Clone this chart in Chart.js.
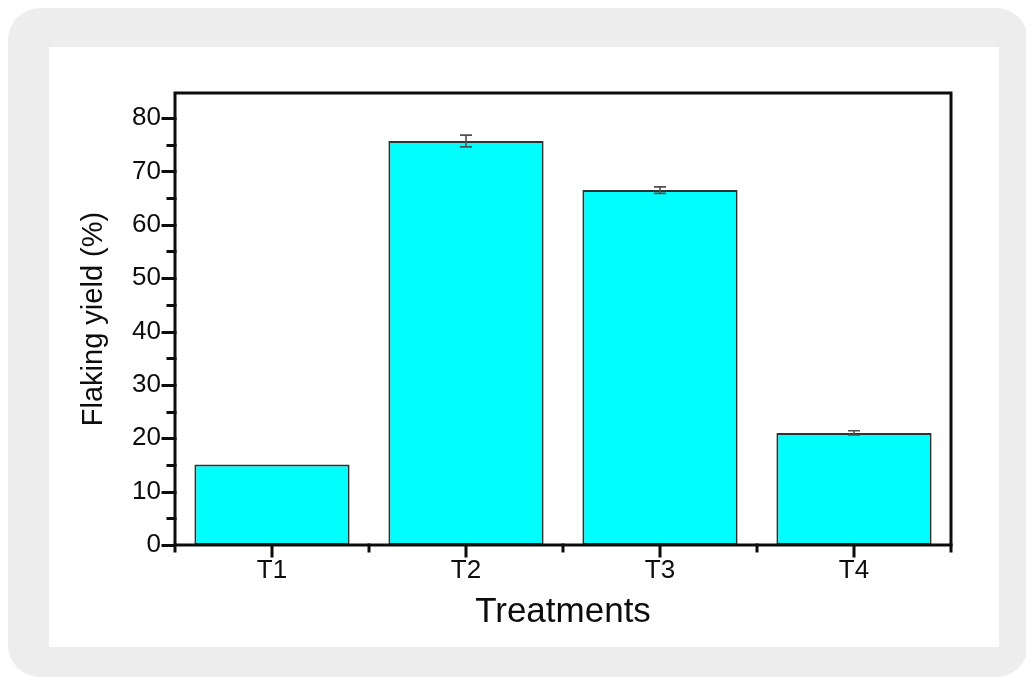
<!DOCTYPE html>
<html>
<head>
<meta charset="utf-8">
<script src="https://cdn.jsdelivr.net/npm/chart.js@4/dist/chart.umd.min.js"></script>
<style>
  html, body { margin: 0; padding: 0; width: 1026px; height: 677px; overflow: hidden; background: #ffffff; }
  #panel { position: absolute; left: 8px; top: 8px; width: 1020px; height: 669px; background: #ededed; border-radius: 32px; }
  #sheet { position: absolute; left: 49px; top: 47px; width: 950px; height: 600px; background: #ffffff; }
  #wrap { position: absolute; left: 0; top: 0; width: 1026px; height: 677px; }
</style>
</head>
<body>
<div id="panel"></div>
<div id="sheet"></div>
<div id="wrap"><canvas id="c" width="1026" height="677"></canvas></div>
<script>
// Flaking yield per treatment (mean and error)
const categories = ['T1', 'T2', 'T3', 'T4'];
const yieldMeans = [15.1, 75.7, 66.5, 21.0];
const yieldErrors = [0, 1.1, 0.6, 0.4];
const yMin = 0;
const yMax = 84.7;
const yStep = 10;
const yMinorStep = 5;

const FONT = "'Liberation Sans', Arial, Helvetica, sans-serif";
const INK = '#0d0d0d';

// Error bars, axis frame and tick marks
const decor = {
  id: 'decor',
  afterDatasetsDraw(chart) {
    const { ctx, scales: { y } } = chart;
    const meta = chart.getDatasetMeta(0);
    ctx.save();
    ctx.strokeStyle = '#505050';
    ctx.lineWidth = 1.6;
    yieldMeans.forEach((v, i) => {
      const e = yieldErrors[i];
      if (!e) return;
      const cx = meta.data[i].x;
      const yt = y.getPixelForValue(v + e);
      const yb = y.getPixelForValue(v - e);
      ctx.beginPath();
      ctx.moveTo(cx, yt); ctx.lineTo(cx, yb);
      ctx.moveTo(cx - 6, yt); ctx.lineTo(cx + 6, yt);
      ctx.moveTo(cx - 6, yb); ctx.lineTo(cx + 6, yb);
      ctx.stroke();
    });
    ctx.restore();
  },
  afterDraw(chart) {
    const { ctx, chartArea: a, scales: { x, y } } = chart;
    ctx.save();
    ctx.strokeStyle = INK;
    ctx.lineWidth = 3;
    ctx.lineCap = 'square';
    ctx.beginPath();
    // left y ticks (outward)
    for (let v = yMin; v <= 80 + 1e-9; v += yMinorStep) {
      const py = Math.round(y.getPixelForValue(v)) + 0.5;
      const len = (v % yStep === 0) ? 12 : 7;
      ctx.moveTo(a.left - len, py);
      ctx.lineTo(a.left, py);
    }
    // bottom x ticks: major at categories, minor between
    const n = categories.length;
    for (let i = 0; i < n; i++) {
      const px = x.getPixelForValue(i);
      ctx.moveTo(px, a.bottom);
      ctx.lineTo(px, a.bottom + 11);
    }
    const step = (a.right - a.left) / n;
    for (let k = 0; k <= n; k++) {
      const px = a.left + k * step;
      ctx.moveTo(px, a.bottom);
      ctx.lineTo(px, a.bottom + 6);
    }
    ctx.stroke();
    // frame
    ctx.lineCap = 'butt';
    ctx.strokeRect(a.left, a.top, a.right - a.left, a.bottom - a.top);
    ctx.restore();
  }
};

new Chart(document.getElementById('c'), {
  type: 'bar',
  data: {
    labels: categories,
    datasets: [{
      data: yieldMeans,
      backgroundColor: '#00ffff',
      borderColor: '#2b3333',
      borderWidth: 2,
      borderSkipped: false,
      categoryPercentage: 1.0,
      barPercentage: 0.8
    }]
  },
  options: {
    responsive: false,
    animation: false,
    layout: { padding: { left: 77, right: 75, top: 93, bottom: 44 } },
    plugins: { legend: { display: false }, tooltip: { enabled: false } },
    scales: {
      x: {
        grid: { display: false, drawTicks: false },
        border: { display: false },
        ticks: { font: { family: FONT, size: 26 }, color: INK, padding: 10 },
        title: { display: true, text: 'Treatments', font: { family: FONT, size: 35 }, color: INK, padding: 0 },
        afterFit(s) { s.height = 88; }
      },
      y: {
        min: yMin,
        max: yMax,
        grid: { display: false, drawTicks: false },
        border: { display: false },
        ticks: { stepSize: yStep, includeBounds: false, padding: 14, font: { family: FONT, size: 26 }, color: INK },
        title: { display: true, text: 'Flaking yield (%)', font: { family: FONT, size: 29 }, color: INK, padding: 0 },
        afterFit(s) { s.width = 98; }
      }
    }
  },
  plugins: [decor]
});
</script>
</body>
</html>
